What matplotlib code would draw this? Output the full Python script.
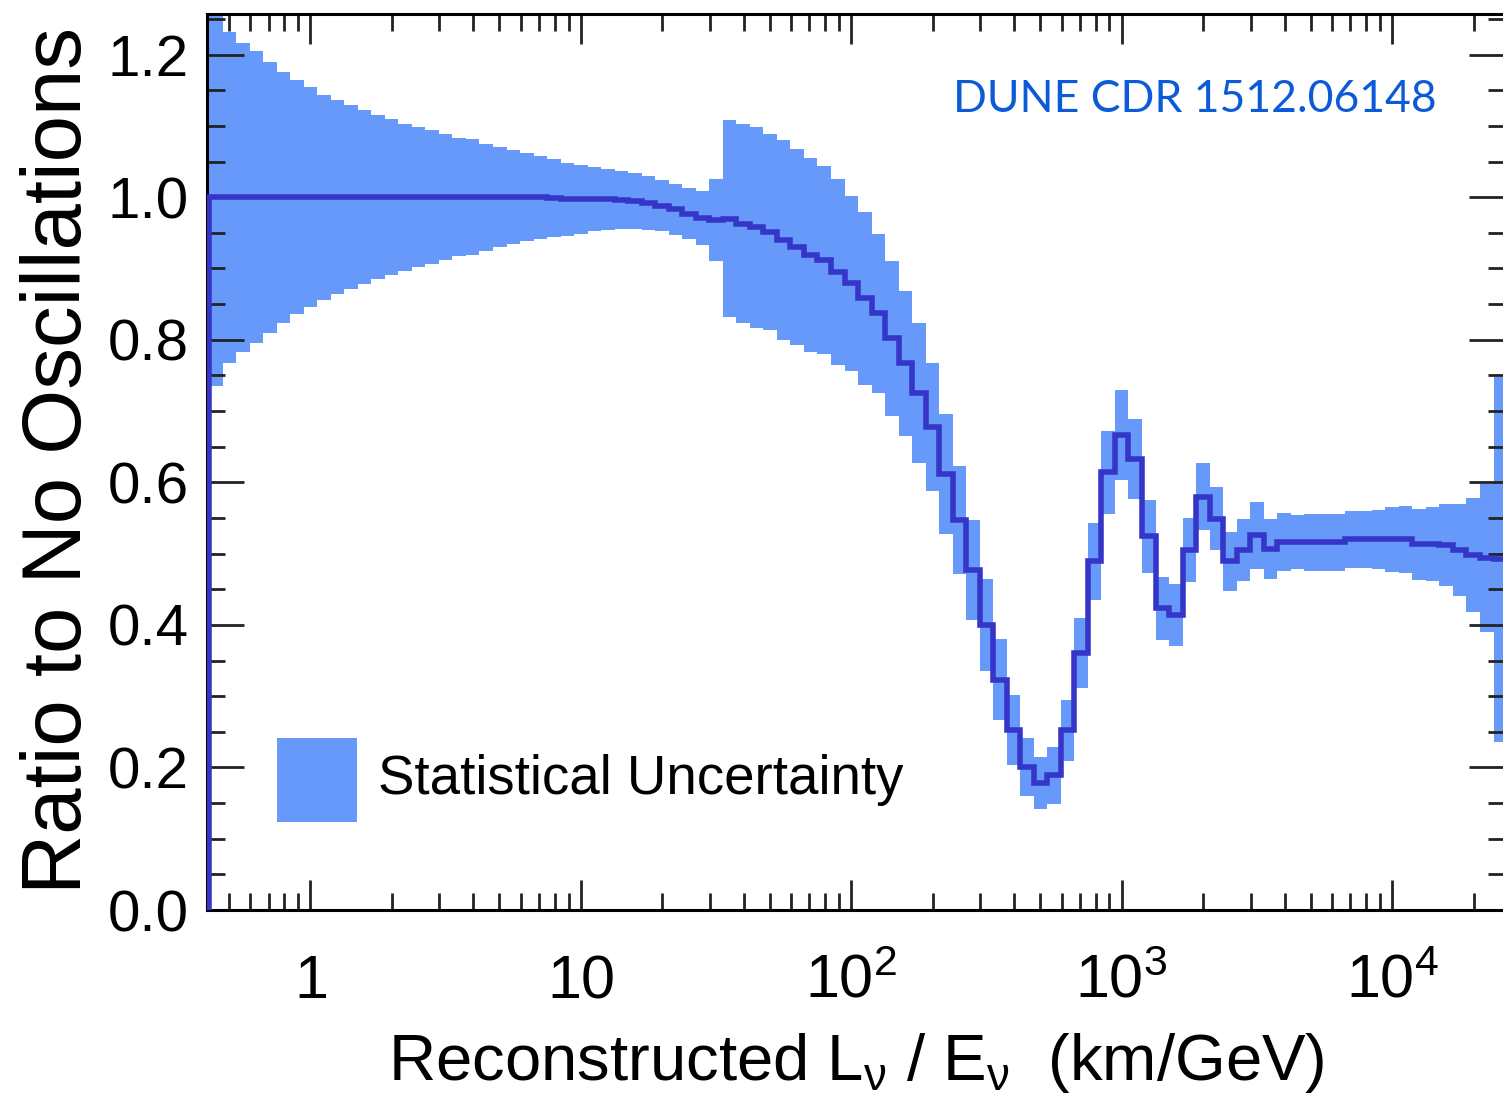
import numpy as np
import matplotlib
matplotlib.use('Agg')
import matplotlib.pyplot as plt
from matplotlib.patches import Rectangle
from matplotlib.ticker import FixedLocator, FixedFormatter, LogLocator, NullFormatter, MultipleLocator


##
## => DUNE CDR: ratio of reconstructed L/E spectrum to no-oscillation case
##    histogram with 20 log bins per decade, band = statistical uncertainty
##

## binning (log10 of L/E in km/GeV)
log_edge_start = -0.375
log_bin_width = 0.05

## bin contents (ratio) and statistical half-width of the band
ratio = [1.000, 1.000, 1.000, 1.000, 1.000, 1.000, 1.000, 1.000, 1.000, 1.000,
         1.000, 1.000, 1.000, 1.000, 1.000, 1.000, 1.000, 1.000, 1.000, 1.000,
         1.000, 1.000, 1.000, 1.000, 1.000, 0.999, 0.997, 0.997, 0.997, 0.997,
         0.996, 0.995, 0.992, 0.988, 0.983, 0.977, 0.971, 0.968, 0.970, 0.963,
         0.958, 0.951, 0.940, 0.930, 0.919, 0.912, 0.895, 0.879, 0.858, 0.837,
         0.802, 0.767, 0.725, 0.678, 0.612, 0.547, 0.477, 0.400, 0.323, 0.252,
         0.201, 0.178, 0.189, 0.252, 0.360, 0.489, 0.614, 0.666, 0.633, 0.524,
         0.423, 0.414, 0.505, 0.580, 0.549, 0.489, 0.505, 0.526, 0.507, 0.516,
         0.516, 0.516, 0.516, 0.516, 0.520, 0.520, 0.520, 0.520, 0.520, 0.513,
         0.513, 0.512, 0.505, 0.498, 0.494, 0.492]

stat_err = [0.265, 0.232, 0.217, 0.205, 0.190, 0.176, 0.164, 0.154, 0.144, 0.136,
            0.129, 0.122, 0.115, 0.109, 0.103, 0.098, 0.094, 0.088, 0.083, 0.081,
            0.075, 0.070, 0.066, 0.062, 0.058, 0.055, 0.051, 0.048, 0.045, 0.043,
            0.041, 0.039, 0.038, 0.036, 0.036, 0.036, 0.038, 0.058, 0.138, 0.140,
            0.141, 0.138, 0.140, 0.138, 0.136, 0.132, 0.130, 0.123, 0.121, 0.111,
            0.109, 0.102, 0.098, 0.090, 0.084, 0.076, 0.070, 0.064, 0.057, 0.049,
            0.041, 0.037, 0.040, 0.043, 0.049, 0.054, 0.058, 0.063, 0.056, 0.051,
            0.044, 0.043, 0.045, 0.047, 0.044, 0.042, 0.043, 0.047, 0.042, 0.041,
            0.038, 0.040, 0.040, 0.040, 0.040, 0.040, 0.041, 0.046, 0.047, 0.050,
            0.052, 0.058, 0.065, 0.080, 0.104, 0.256]

x_ticks = [1, 10, 100, 1000, 10000]
x_tick_labels = ['$1$', '$10$', '$10^{2}$', '$10^{3}$', '$10^{4}$']
y_ticks = [0.0, 0.2, 0.4, 0.6, 0.8, 1.0, 1.2]
y_tick_labels = ['0.0', '0.2', '0.4', '0.6', '0.8', '1.0', '1.2']

## colors
band_color = '#6699f9'
line_color = '#3535c8'
note_color = '#0b5ad8'

## fonts
plt.rcParams['font.family'] = ['Liberation Sans', 'DejaVu Sans']
plt.rcParams['mathtext.fontset'] = 'custom'
plt.rcParams['mathtext.rm'] = 'Liberation Sans'
plt.rcParams['mathtext.it'] = 'Liberation Sans'
plt.rcParams['mathtext.default'] = 'rm'

## build
ratio = np.array(ratio)
stat_err = np.array(stat_err)
edges = 10 ** (log_edge_start + log_bin_width * np.arange(len(ratio) + 1))

fig = plt.figure(figsize=(15.03, 10.99), dpi=100)
ax = fig.add_axes([0.13766, 0.17197, 0.86414, 0.81529])

ax.stairs(ratio + stat_err, edges, baseline=ratio - stat_err, fill=True,
          color=band_color, linewidth=0, zorder=1)
ax.stairs(ratio, edges, baseline=0, color=line_color, linewidth=4.0, zorder=3)

ax.set_xscale('log')
ax.set_xlim(10 ** -0.383, 10 ** 4.42)
ax.set_ylim(0, 1.257)

## ticks
ax.xaxis.set_major_locator(FixedLocator(x_ticks))
ax.xaxis.set_major_formatter(FixedFormatter(x_tick_labels))
ax.xaxis.set_minor_locator(LogLocator(base=10, subs=np.arange(2, 10), numticks=20))
ax.xaxis.set_minor_formatter(NullFormatter())
ax.yaxis.set_major_locator(FixedLocator(y_ticks))
ax.yaxis.set_major_formatter(FixedFormatter(y_tick_labels))
ax.yaxis.set_minor_locator(MultipleLocator(0.05))

ax.tick_params(which='both', direction='in', top=True, right=True, width=2, color='#222222')
ax.tick_params(axis='x', which='major', length=21.6, labelsize=44, pad=63)
ax.tick_params(axis='x', which='minor', length=12)
ax.tick_params(axis='y', which='major', length=26.6, labelsize=42, pad=13)
ax.tick_params(axis='y', which='minor', length=13)
for lbl in ax.get_xticklabels():
    lbl.set_verticalalignment('baseline')

for side in ax.spines:
    ax.spines[side].set_linewidth(2.2)

## axis titles
fig.text(59 / 1503, 1 - 460 / 1099, 'Ratio to No Oscillations', rotation=90,
         ha='center', va='center', fontsize=60)
fig.text(856 / 1503, 1 - 1080 / 1099, r'Reconstructed L$_{\nu}$ / E$_{\nu}$  (km/GeV)',
         ha='center', va='baseline', fontsize=47)

## legend
ax.add_patch(Rectangle((0.0539, 0.0982), 0.0616, 0.0938, transform=ax.transAxes,
                       facecolor=band_color, edgecolor='none', zorder=4))
ax.text(0.1317, 0.145, 'Statistical Uncertainty', transform=ax.transAxes,
        ha='left', va='center', fontsize=39.3, zorder=4)

## reference note
fig.text(1437 / 1503, 1 - 99 / 1099, 'DUNE CDR 1512.06148', color=note_color,
         family='Lato', ha='right', va='center', fontsize=32)

plt.savefig('out.png', dpi=100)
plt.close()
